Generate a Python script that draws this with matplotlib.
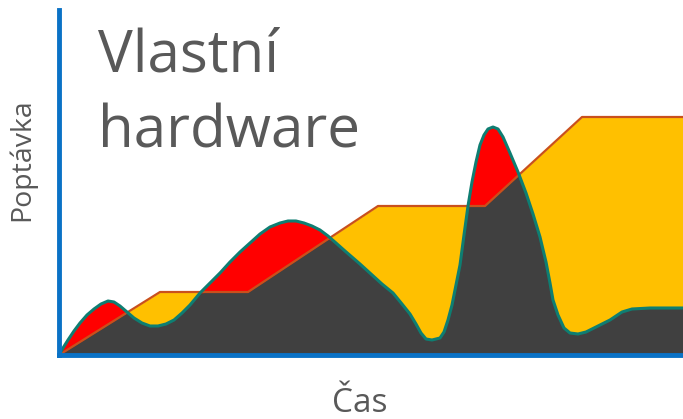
import matplotlib
matplotlib.use('Agg')

import numpy as np
import matplotlib.pyplot as plt

plt.rcParams['font.family'] = ['Open Sans', 'DejaVu Sans']

# Capacity of own hardware (step-wise growth)
cap_x = [0, 101, 189, 319, 426, 523, 624]
cap_y = [0, 63, 63, 149, 149, 238, 238]

# Demand curve
dem_x = [0, 4, 9, 15, 21, 28, 35, 42, 49, 55, 61, 68, 75, 83, 91, 99, 107,
         115, 123, 131, 141, 151, 161, 171, 181, 191, 201, 211, 221, 229,
         237, 245, 253, 261, 269, 277, 286, 301, 323, 334, 343, 351, 357,
         362, 367, 373, 381, 385, 389, 393, 397, 401, 405, 409, 413, 417,
         421, 425, 429, 434, 439, 444, 451, 459, 467, 474, 481, 487, 491,
         494, 499, 505, 511, 519, 527, 537, 551, 563, 573, 591, 624]
dem_y = [0, 7, 15, 24, 32, 40, 46, 51, 54, 53, 49, 43, 37, 32, 29, 29, 31,
         35, 42, 50, 62, 72, 82, 93, 103, 112, 121, 128, 132, 134,
         134, 132, 129, 125, 119, 112, 104, 91, 71, 62, 51, 41, 31,
         22, 16, 15, 17, 23, 35, 50, 70, 90, 120, 149, 173, 193,
         210, 220, 226, 228, 226, 218, 202, 183, 162, 141, 118, 93, 72,
         55, 40, 27, 22, 21, 23, 28, 35, 43, 46, 47, 47]

# common x grid so that the minimum of both curves can be filled
xs = np.union1d(cap_x, dem_x)
cap = np.interp(xs, cap_x, cap_y)
dem = np.interp(xs, dem_x, dem_y)

fig = plt.figure(figsize=(6.83, 4.19), dpi=100)
ax = fig.add_axes([59 / 683, (419 - 355) / 419, (683 - 59) / 683, (355 - 10) / 419])

ax.fill_between(xs, 0, cap, color='#FFC000', lw=0)
ax.fill_between(xs, 0, dem, color='#FF0000', lw=0)
ax.fill_between(xs, 0, np.minimum(cap, dem), color='#404040', lw=0)
ax.plot(cap_x, cap_y, color='#C9501C', lw=1.6, solid_capstyle='butt')
ax.plot(dem_x, dem_y, color='#0E7E72', lw=2.2, solid_joinstyle='round')

ax.set_xlim(0, 624)
ax.set_ylim(0, 345)
ax.set_xticks([])
ax.set_yticks([])
for side in ['top', 'right']:
    ax.spines[side].set_visible(False)
for side in ['left', 'bottom']:
    ax.spines[side].set_color('#0A72C6')
    ax.spines[side].set_linewidth(3.5)
    ax.spines[side].set_zorder(5)

grey = '#595959'
fig.text(98 / 683, (419 - 71) / 419, 'Vlastní', fontsize=42, color=grey,
         ha='left', va='baseline')
fig.text(98 / 683, (419 - 147) / 419, 'hardware', fontsize=42, color=grey,
         ha='left', va='baseline')
fig.text(22 / 683, (419 - 160) / 419, 'Poptávka', fontsize=20.5, color=grey,
         rotation=90, ha='center', va='center')
fig.text(360 / 683, (419 - 412) / 419, 'Čas', fontsize=24, color=grey,
         ha='center', va='baseline')

fig.savefig('out.png', dpi=100)
